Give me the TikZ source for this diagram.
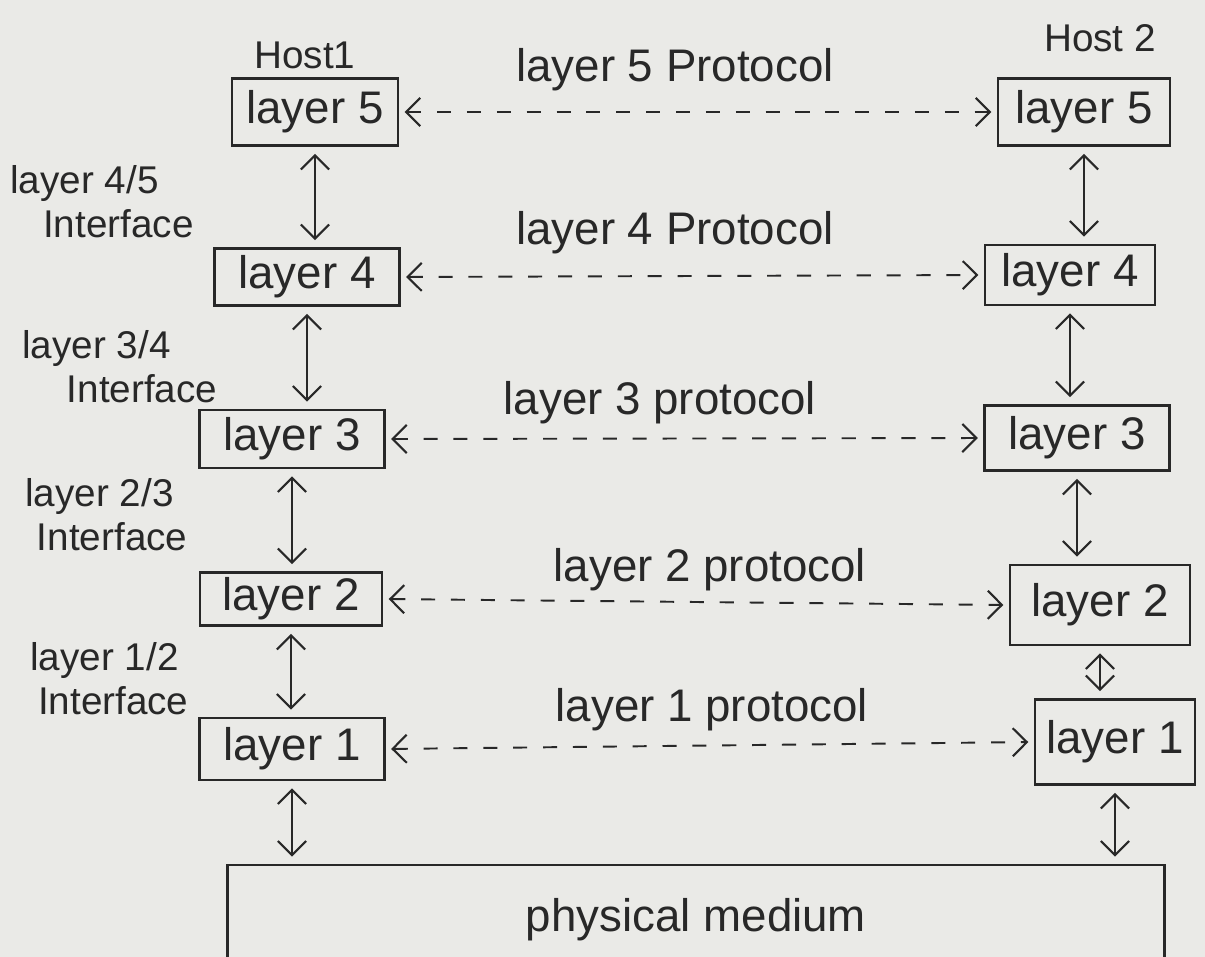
\documentclass[tikz,border=0pt]{standalone}
\usepackage{fontspec}
\setmainfont{Liberation Sans}
\usetikzlibrary{arrows.meta, positioning}
\definecolor{paper}{RGB}{234,234,231}
\definecolor{ink}{RGB}{40,40,40}
\tikzset{
  layerbox/.style={draw=ink, line width=1.6pt, inner sep=2pt, text=ink, font=\fontsize{26}{30}\selectfont},
  barb/.tip={Straight Barb[length=8pt, width=16pt, line width=1.2pt]},
  proto/.style={draw=ink, line width=1.1pt, dash pattern=on 8pt off 9pt, barb-barb, shorten <=3pt, shorten >=3pt},
  link/.style={draw=ink, line width=1.3pt, barb-barb, shorten <=4pt, shorten >=4pt},
  lbl/.style={text=ink, font=\fontsize{26}{30}\selectfont},
  iface/.style={align=left, anchor=north west, inner sep=0pt, text=ink, font=\fontsize{22}{25}\selectfont}
}
\begin{document}
\begin{tikzpicture}[x=0.02cm, y=-0.02cm]
\fill[paper] (0,0) rectangle (1205,957);
\useasboundingbox (0,0) rectangle (1205,957);
% hosts
\node[lbl, font=\fontsize{22}{26}\selectfont] (h1) at (305,55) {Host1};
\node[lbl, font=\fontsize{22}{26}\selectfont] (h2) at (1100,38) {Host 2};
% layer boxes
\foreach \n/\x/\y/\w/\h in {5/315/112/3.32/1.34, 4/307/277/3.7/1.14, 3/292/439/3.7/1.16, 2/291/599/3.64/1.06, 1/292/749/3.7/1.24}
  \node[layerbox, minimum width=\w cm, minimum height=\h cm] (l\n) at (\x,\y) {layer \n};
\foreach \n/\x/\y/\w/\h in {5/1084/112/3.44/1.34, 4/1070/275/3.4/1.2, 3/1077/438/3.7/1.3, 2/1100/605/3.6/1.6, 1/1115/742/3.2/1.7}
  \node[layerbox, minimum width=\w cm, minimum height=\h cm] (r\n) at (\x,\y) {layer \n};
\node[layerbox, minimum width=18.74cm, minimum height=2.2cm] (pm) at (696,920) {physical medium};
% protocols
\foreach \n/\x/\y/\p in {5/675/70/Protocol, 4/675/233/Protocol, 3/660/403/protocol, 2/710/570/protocol, 1/712/710/protocol}
  \node[lbl] (p\n) at (\x,\y) {layer \n\ \p};
\foreach \n in {1,...,5}
  \draw[proto] (l\n.east) -- (r\n.west);
% interfaces
\node[iface] (i45) at (10,165) {layer 4/5\\\hspace{0.85em}Interface};
\node[iface] (i34) at (22,330) {layer 3/4\\\hspace{1.15em}Interface};
\node[iface] (i23) at (25,478) {layer 2/3\\\hspace{0.3em}Interface};
\node[iface] (i12) at (30,642) {layer 1/2\\\hspace{0.2em}Interface};
% up and down
\foreach \a/\b in {5/4, 4/3, 3/2, 2/1} {
  \draw[link] (l\a.south) -- (l\a.south |- l\b.north);
  \draw[link] (r\a.south) -- (r\a.south |- r\b.north);
}
\draw[link] (l1.south) -- (l1.south |- pm.north);
\draw[link] (r1.south) -- (r1.south |- pm.north);
\end{tikzpicture}
\end{document}
